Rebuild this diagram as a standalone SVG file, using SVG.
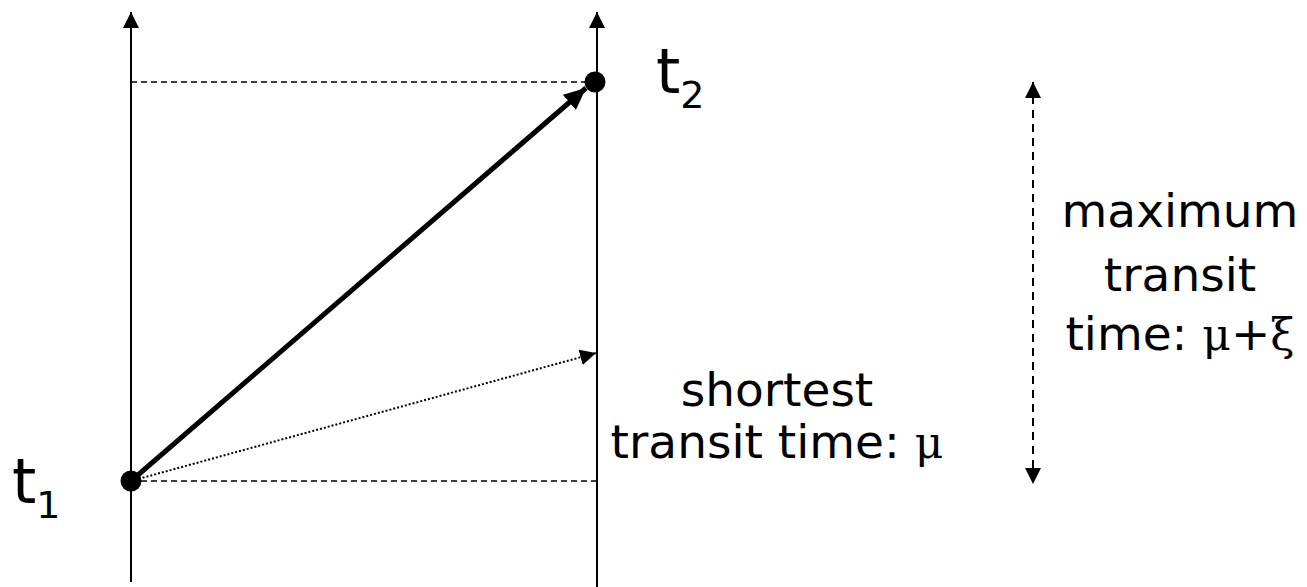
<svg xmlns="http://www.w3.org/2000/svg" width="1307" height="587" viewBox="0 0 1307 587">
<style>
.txt{font-family:"DejaVu Sans",sans-serif;fill:#000;text-anchor:middle}
.lbl{font-family:"DejaVu Sans",sans-serif;fill:#000}
.sym{font-family:"DejaVu Serif","Liberation Serif",serif;font-size:44px}
.axis{stroke:#000;stroke-width:2;fill:none}
.dash{stroke:#000;stroke-width:1.5;stroke-dasharray:6,4;fill:none}
</style>
<defs>
<marker id="ah" markerUnits="userSpaceOnUse" markerWidth="16" markerHeight="16" refX="16" refY="8" orient="auto" viewBox="0 0 16 16">
<path d="M0,0 L16,8 L0,16 Z" fill="#000"/>
</marker>
<marker id="ahs" markerUnits="userSpaceOnUse" markerWidth="16" markerHeight="16" refX="16" refY="8" orient="auto-start-reverse" viewBox="0 0 16 16">
<path d="M0,0 L16,8 L0,16 Z" fill="#000"/>
</marker>
<marker id="ahb" markerUnits="userSpaceOnUse" markerWidth="22" markerHeight="20" refX="22" refY="10" orient="auto" viewBox="0 0 22 20">
<path d="M0,0 L22,10 L0,20 Z" fill="#000"/>
</marker>
</defs>
<g id="connectors">
<line class="axis" x1="131" y1="582" x2="131" y2="12" marker-end="url(#ah)"/>
<line class="axis" x1="597" y1="587" x2="597" y2="12" marker-end="url(#ah)"/>
<line class="dash" x1="131" y1="82" x2="594" y2="82"/>
<line class="dash" x1="131" y1="481" x2="597" y2="481"/>
<line x1="131" y1="481" x2="586" y2="88" stroke="#000" stroke-width="5" marker-end="url(#ahb)"/>
<line x1="131" y1="481" x2="596" y2="353" stroke="#000" stroke-width="2" stroke-dasharray="2,2" marker-end="url(#ah)"/>
<line x1="1033" y1="82" x2="1033" y2="484" stroke="#000" stroke-width="2" stroke-dasharray="8,6" marker-start="url(#ahs)" marker-end="url(#ahs)"/>
</g>
<g id="t1">
<circle cx="131" cy="481" r="10.5" fill="#000"/>
<text class="lbl" x="12" y="503" font-size="62">t<tspan font-size="38" dy="15">1</tspan></text>
</g>
<g id="t2">
<circle cx="595" cy="82" r="10.5" fill="#000"/>
<text class="lbl" x="656" y="93" font-size="62">t<tspan font-size="38" dy="15">2</tspan></text>
</g>
<g id="shortest">
<text class="txt" font-size="47" x="777" y="406">shortest</text>
<text class="txt" font-size="47" x="777" y="458">transit time: <tspan class="sym">μ</tspan></text>
</g>
<g id="maximum">
<text class="txt" font-size="47" x="1180" y="227">maximum</text>
<text class="txt" font-size="47" x="1180" y="291">transit</text>
<text class="txt" font-size="47" x="1180" y="350">time: <tspan class="sym">μ</tspan>+<tspan class="sym">ξ</tspan></text>
</g>
</svg>
